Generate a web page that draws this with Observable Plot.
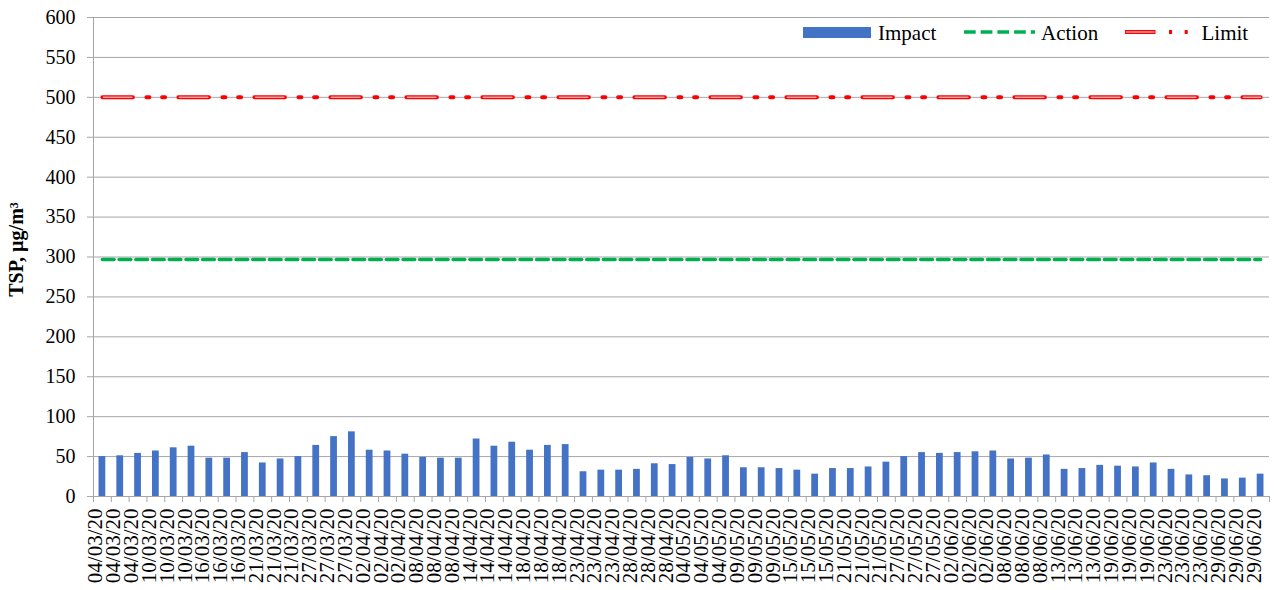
<!DOCTYPE html>
<html>
<head>
<meta charset="utf-8">
<script src="https://cdn.jsdelivr.net/npm/d3@7"></script>
<script src="https://cdn.jsdelivr.net/npm/@observablehq/plot@0.6"></script>
<style>
  body { margin: 0; background: #fff; }
  #chart { width: 1274px; height: 590px; }
</style>
</head>
<body>
<div id="chart"></div>
<script>
// Sampling dates: three 1-hour TSP samples were taken on each date
const sampleDates = [
  "04/03/20", "10/03/20", "16/03/20", "21/03/20", "27/03/20", "02/04/20",
  "08/04/20", "14/04/20", "18/04/20", "23/04/20", "28/04/20", "04/05/20",
  "09/05/20", "15/05/20", "21/05/20", "27/05/20", "02/06/20", "08/06/20",
  "13/06/20", "19/06/20", "23/06/20", "29/06/20"
];

// Impact station readings, µg/m³ (one per sample)
const impact = [
  50, 51, 54,  57, 61, 63,  48, 48, 55,  42, 47, 50,  64, 75, 81,  58, 57, 53,
  49, 48, 48,  72, 63, 68,  58, 64, 65,  31, 33, 33,  34, 41, 40,  49, 47, 51,
  36, 36, 35,  33, 28, 35,  35, 37, 43,  50, 55, 54,  55, 56, 57,  47, 48, 52,
  34, 35, 39,  38, 37, 42,  34, 27, 26,  22, 23, 28
];

const actionLevel = 297;
const limitLevel = 500;
const yTicks = [0, 50, 100, 150, 200, 250, 300, 350, 400, 450, 500, 550, 600];
const yLabel = "TSP, µg/m³";

const sampleLabels = sampleDates.flatMap(d => [d, d, d]);
const rows = impact.map((v, i) => ({i, v, label: sampleLabels[i]}));
const order = rows.map(r => r.i);

const W = 1274, H = 590;
const mL = 93, mR = 5, mT = 17, mB = 94;
const step = (W - mL - mR) / rows.length;
const serif = "Liberation Serif";
const gridGray = "#a6a6a6";
const blue = "#4472c4", green = "#00b050", red = "#ff0000";

const chart = Plot.plot({
  width: W,
  height: H,
  marginLeft: mL,
  marginRight: mR,
  marginTop: mT,
  marginBottom: mB,
  style: {fontFamily: serif, fontSize: "20px", color: "#000", background: "#fff", overflow: "visible"},
  x: {type: "band", domain: order, paddingInner: 0.62, paddingOuter: 0.31, label: null},
  y: {domain: [0, 600], label: null},
  marks: [
    Plot.gridY(yTicks, {stroke: gridGray, strokeOpacity: 1}),
    Plot.frame({anchor: "left", stroke: gridGray}),
    Plot.frame({anchor: "bottom", stroke: gridGray}),
    // tick marks (labels drawn as text below)
    Plot.axisY(yTicks, {tickSize: 6, stroke: gridGray, tickFormat: () => "", label: null}),
    Plot.axisX({tickSize: 6, stroke: gridGray, tickFormat: () => "", dx: -step / 2, label: null}),
    Plot.axisX([order[order.length - 1]], {tickSize: 6, stroke: gridGray, tickFormat: () => "", dx: step / 2, label: null}),
    // y tick labels
    Plot.text(yTicks, {y: d => d, text: d => String(d), frameAnchor: "left", textAnchor: "end", dx: -18, fontSize: 20, fontFamily: serif, fill: "#000"}),
    // date labels
    Plot.text(rows, {x: "i", text: "label", frameAnchor: "bottom", rotate: -90, textAnchor: "end", dy: 12, fontSize: 21, fontFamily: serif, fill: "#000"}),
    Plot.barY(rows, {x: "i", y: "v", fill: blue}),
    Plot.lineY(rows, {x: "i", y: () => actionLevel, stroke: green, strokeWidth: 3.5, strokeDasharray: "11.7,5"}),
    Plot.lineY(rows, {x: "i", y: () => limitLevel, stroke: red, strokeWidth: 4, strokeDasharray: "30.5,13.5,3,12.7,3,13.3"}),
    Plot.lineY(rows, {x: "i", y: () => limitLevel, stroke: "#f3a3a3", strokeWidth: 1.5, strokeDasharray: "28.5,47.5", strokeDashoffset: -1}),
    // y-axis title
    Plot.text([yLabel], {frameAnchor: "left", textAnchor: "middle", dx: -77, dy: -7.5, rotate: -90, fontWeight: "bold", fontSize: 20, fontFamily: serif, fill: "#000"})
  ]
});

// Legend, top right inside the plot area
const svg = d3.select(chart);
const lg = svg.append("g")
  .attr("font-family", serif).attr("font-size", 21).attr("fill", "#000").attr("text-anchor", "start");
lg.append("rect").attr("x", 803).attr("y", 27).attr("width", 68).attr("height", 11).attr("fill", blue);
lg.append("text").attr("x", 878).attr("y", 39.5).text("Impact");
lg.append("line").attr("x1", 964).attr("x2", 1035).attr("y1", 32).attr("y2", 32)
  .attr("stroke", green).attr("stroke-width", 3.5).attr("stroke-dasharray", "11.7,5");
lg.append("text").attr("x", 1041).attr("y", 39.5).text("Action");
lg.append("line").attr("x1", 1125).attr("x2", 1191).attr("y1", 32).attr("y2", 32)
  .attr("stroke", red).attr("stroke-width", 4).attr("stroke-dasharray", "30.5,13.5,3,12.7,3,13.3");
lg.append("line").attr("x1", 1126).attr("x2", 1154.5).attr("y1", 32).attr("y2", 32)
  .attr("stroke", "#f3a3a3").attr("stroke-width", 1.5);
lg.append("text").attr("x", 1201.5).attr("y", 39.5).text("Limit");

document.getElementById("chart").append(chart);
</script>
</body>
</html>
